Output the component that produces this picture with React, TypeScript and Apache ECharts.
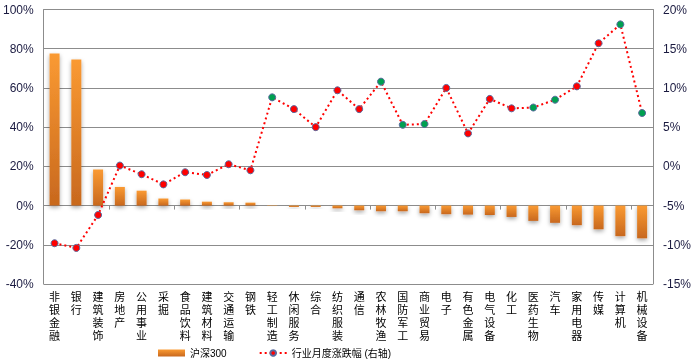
import React, { useEffect, useRef } from "react";
import * as echarts from "echarts";

const categories = ["非银金融","银行","建筑装饰","房地产","公用事业","采掘","食品饮料","建筑材料","交通运输","钢铁","轻工制造","休闲服务","综合","纺织服装","通信","农林牧渔","国防军工","商业贸易","电子","有色金属","电气设备","化工","医药生物","汽车","家用电器","传媒","计算机","机械设备"];
const hs300 = [77.5,74.5,18.4,9.5,7.6,3.6,3.1,2.0,1.7,1.5,-0.2,-0.7,-0.7,-1.4,-2.4,-2.9,-2.9,-3.9,-4.4,-4.6,-4.8,-5.8,-7.8,-8.8,-10.0,-12.1,-15.6,-16.7];
const monthly = [-9.8,-10.4,-6.2,0.1,-1.0,-2.3,-0.75,-1.1,0.27,-0.5,8.8,7.3,5.0,9.7,7.3,10.8,5.3,5.4,10.0,4.2,8.6,7.4,7.5,8.5,10.2,15.7,18.1,6.8];
const greenFlags = [0,0,0,0,0,0,0,0,0,0,1,0,0,0,0,1,1,1,0,0,0,0,1,1,0,0,1,1];
const leftTicks = { min: -40, max: 100, interval: 20 };
const rightTicks = { min: -15, max: 20, interval: 5 };

export default function App() {
  const ref = useRef<HTMLDivElement>(null);
  useEffect(() => {
    if (!ref.current) return;
    const chart = echarts.init(ref.current, null, { renderer: "svg" });
    const font = "'Liberation Sans', Arial, sans-serif";
    const cjk = "'Liberation Sans', 'Noto Sans CJK SC', sans-serif";
    const barColor = new echarts.graphic.LinearGradient(0, 0, 0, 1, [
      { offset: 0, color: "#FA9A32" },
      { offset: 1, color: "#C8681E" },
    ]);
    chart.setOption({
      animation: false,
      grid: { left: 42, right: 43, top: 9.5, bottom: 80 },
      legend: {
        left: 153,
        bottom: 1,
        itemGap: 32,
        itemWidth: 27,
        itemHeight: 7,
        textStyle: { fontFamily: cjk, fontSize: 10, color: "#000" },
        data: [
          { name: "沪深300", icon: "rect" },
          { name: "行业月度涨跌幅 (右轴)" },
        ],
      },
      xAxis: [
        {
          type: "category",
          data: categories,
          position: "bottom",
          axisLine: { show: false, onZero: false },
          axisTick: { show: false },
          axisLabel: {
            interval: 0,
            margin: 7,
            fontFamily: cjk,
            fontSize: 11,
            lineHeight: 12.8,
            color: "#000",
            formatter: (v: string) => v.split("").join("\n"),
          },
        },
        {
          type: "category",
          data: categories,
          position: "bottom",
          axisLine: { show: true, onZero: true, onZeroAxisIndex: 0, lineStyle: { color: "#8c8c8c" } },
          axisTick: { show: true, length: 4, inside: false, lineStyle: { color: "#8c8c8c" } },
          axisLabel: { show: false },
        },
      ],
      yAxis: [
        {
          type: "value",
          ...leftTicks,
          axisLine: { show: true, lineStyle: { color: "#8c8c8c" } },
          axisTick: { show: false },
          splitLine: { show: true, lineStyle: { color: "#8c8c8c" } },
          axisLabel: { formatter: "{value}%", fontFamily: font, fontSize: 12, color: "#1a1a40", margin: 10 },
        },
        {
          type: "value",
          ...rightTicks,
          axisLine: { show: true, lineStyle: { color: "#8c8c8c" } },
          axisTick: { show: false },
          splitLine: { show: false },
          axisLabel: { formatter: "{value}%", fontFamily: font, fontSize: 12, color: "#1a1a40", margin: 10 },
        },
      ],
      series: [
        {
          name: "沪深300",
          type: "bar",
          xAxisIndex: 0,
          yAxisIndex: 0,
          data: hs300,
          barWidth: 10,
          itemStyle: {
            color: barColor,
            shadowColor: "rgba(0,0,0,0.35)",
            shadowBlur: 4,
            shadowOffsetY: 2,
          },
        },
        {
          name: "行业月度涨跌幅 (右轴)",
          type: "line",
          xAxisIndex: 0,
          yAxisIndex: 1,
          data: monthly.map((v, i) => ({
            value: v,
            itemStyle: { color: greenFlags[i] ? "#00A050" : "#FF0000" },
          })),
          symbol: "circle",
          symbolSize: 7,
          lineStyle: { color: "#FF0000", width: 2, type: [2, 3] },
          itemStyle: { color: "#FF0000", borderColor: "#5A6A9E", borderWidth: 1 },
          z: 5,
        },
      ],
    });
    return () => chart.dispose();
  }, []);
  return <div ref={ref} style={{ position: "fixed", left: 0, top: 0, width: 696, height: 364 }} />;
}
